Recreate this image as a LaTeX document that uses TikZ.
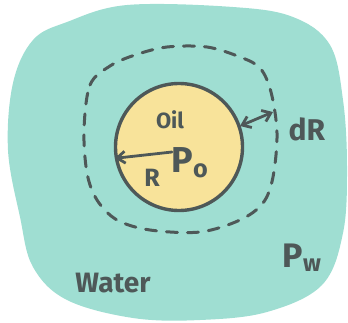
\documentclass[tikz,border=0pt]{standalone}
\usepackage{fontspec}
\setmainfont{Fira Sans}
\usetikzlibrary{arrows.meta}
\definecolor{water}{HTML}{9FDED2}
\definecolor{oil}{HTML}{F8E39A}
\definecolor{ink}{HTML}{4E5858}
\tikzset{
  ink/.style={draw=ink, line width=3.4pt, line cap=round, line join=round},
  lbl/.style={text=ink, inner sep=0pt, font=\bfseries},
  >={Straight Barb[length=8pt,width=12pt]},
}
\begin{document}
\begin{tikzpicture}[x=1pt,y=-1pt]
\useasboundingbox (0,0) rectangle (348,322);
% water blob
\fill[water] plot[smooth cycle, tension=0.6] coordinates {
 (67,22) (127,5) (233,7) (293,17) (330,45) (343,100) (347,167) (343,233)
 (322,285) (267,312) (200,320) (133,318) (67,300) (33,267) (20,217) (8,150) (13,83) (33,40)};
% dashed outline
\draw[ink, line width=3pt, dash pattern=on 11pt off 10pt] plot[smooth cycle, tension=0.55] coordinates {
 (84,130) (90,85) (110,66) (135,55) (167,47) (207,47) (240,57) (260,68) (271,92)
 (277,133) (273,177) (263,203) (240,220) (200,232) (150,230) (117,220) (97,200) (87,173)};
% oil drop
\node[circle, minimum size=127pt, fill=oil, ink, inner sep=0pt] (drop) at (179,147) {};
\coordinate (c) at (172,152);
\coordinate (dRa) at (240,126);
\coordinate (dRb) at (273,112);
\draw[ink, line width=2.8pt, ->] (c) -- (drop.190);
\draw[ink, line width=2.8pt, <->] (dRa) -- (dRb);
% labels
\node[lbl, font=\bfseries\fontsize{22}{22}\selectfont] (oiltext) at (170,120) {Oil};
\node[lbl, font=\bfseries\fontsize{36}{36}\selectfont] (po) at (190,163) {P$_\mathbf{o}$};
\node[lbl, font=\bfseries\fontsize{25}{25}\selectfont] (r) at (152,178) {R};
\node[lbl, font=\bfseries\fontsize{30}{30}\selectfont] (dr) at (307,129) {dR};
\node[lbl, font=\bfseries\fontsize{34}{34}\selectfont] (pw) at (302,258) {P$_\mathbf{w}$};
\node[lbl, font=\bfseries\fontsize{28}{28}\selectfont] (water) at (113,283) {Water};
\end{tikzpicture}
\end{document}
